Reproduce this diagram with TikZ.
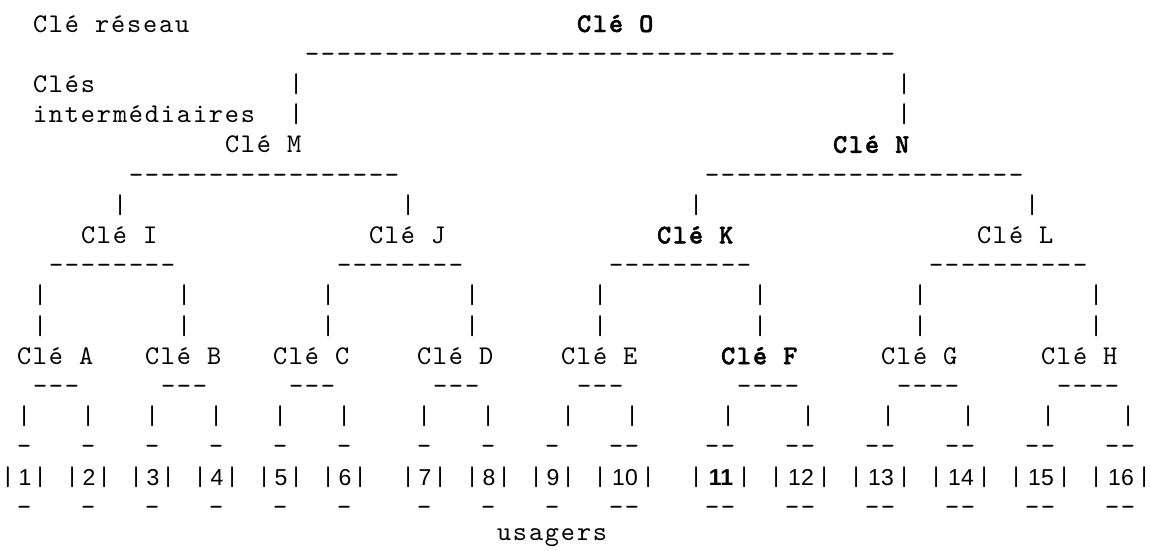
\documentclass[tikz,border=0pt]{standalone}
\usepackage{fontspec}
\newfontfamily\monoF{lmmono10-regular}[Extension=.otf, BoldFont=lmmonolt10-bold, BoldFeatures={FakeBold=1.5}, LetterSpace=6.76, Ligatures=TeXOff]
\newfontfamily\digF{Liberation Sans}[Ligatures=TeXOff]
\tikzset{
  mono/.style={anchor=base west, inner sep=0pt, outer sep=0pt, text=black,
    font=\monoF\fontsize{27}{30}\selectfont},
  monob/.style={mono, font=\monoF\bfseries\fontsize{27}{30}\selectfont},
  dig/.style={anchor=base, inner sep=0pt, outer sep=0pt, text=black,
    font=\digF\fontsize{23}{26}\selectfont},
}
\begin{document}
\begin{tikzpicture}[x=16pt, y=-1pt]
\path[fill=white] (0pt,0pt) rectangle (1151pt,-550pt);
\useasboundingbox (0pt,0pt) rectangle (1151pt,-550pt);
\begin{scope}[xshift=1pt]
% row 0
\node[mono]  (reseau) at (2,32) {Clé réseau};
\node[monob] (cleO)   at (36,32) {Clé O};
% row 1
\node[mono] (dO) at (19,62.2) {-------------------------------------};
% rows 2-3
\node[mono] (cles)  at (2,92.4)  {Clés};
\node[mono] (vOl1)  at (18,92.4) {|};
\node[mono] (vOr1)  at (56,92.4) {|};
\node[mono] (inter) at (2,122.6) {intermédiaires};
\node[mono] (vOl2)  at (18,122.6) {|};
\node[mono] (vOr2)  at (56,122.6) {|};
% row 4
\node[mono]  (cleM) at (14,152.8) {Clé M};
\node[monob] (cleN) at (52,152.8) {Clé N};
% row 5
\node[mono] (dM) at (8,183)  {-----------------};
\node[mono] (dN) at (44,183) {--------------------};
% row 6
\node[mono] (vMl) at (7,213.2)  {|};
\node[mono] (vMr) at (25,213.2) {|};
\node[mono] (vNl) at (43,213.2) {|};
\node[mono] (vNr) at (64,213.2) {|};
% row 7
\node[mono]  (cleI) at (5,243.4)  {Clé I};
\node[mono]  (cleJ) at (23,243.4) {Clé J};
\node[monob] (cleK) at (41,243.4) {Clé K};
\node[mono]  (cleL) at (61,243.4) {Clé L};
% row 8
\node[mono] (dI) at (3,273.6)  {--------};
\node[mono] (dJ) at (21,273.6) {--------};
\node[mono] (dK) at (38,273.6) {---------};
\node[mono] (dL) at (58,273.6) {----------};
% rows 9-10
\foreach \c [count=\i] in {2,11,20,29,37,47,57,68}{
  \node[mono] (va\i) at (\c,303.8) {|};
  \node[mono] (vb\i) at (\c,334) {|};
}
% row 11
\node[mono]  (cleA) at (1,364.2)  {Clé A};
\node[mono]  (cleB) at (9,364.2)  {Clé B};
\node[mono]  (cleC) at (17,364.2) {Clé C};
\node[mono]  (cleD) at (26,364.2) {Clé D};
\node[mono]  (cleE) at (35,364.2) {Clé E};
\node[monob] (cleF) at (45,364.2) {Clé F};
\node[mono]  (cleG) at (55,364.2) {Clé G};
\node[mono]  (cleH) at (65,364.2) {Clé H};
% row 12
\foreach \c/\t [count=\i] in {2/---,10/---,18/---,27/---,36/---,46/----,56/----,66/----}{
  \node[mono] (dl\i) at (\c,394.4) {\t};
}
% row 13
\foreach \c [count=\i] in {1,5,9,13,17,21,26,30,35,39,45,50,55,60,65,70}{
  \node[mono] (vu\i) at (\c,424.6) {|};
}
% rows 14 and 16
\foreach \c/\t [count=\i] in {1/-,5/-,9/-,13/-,17/-,21/-,26/-,30/-,34/-,38/--,44/--,49/--,54/--,59/--,64/--,69/--}{
  \node[mono] (ua\i) at (\c,454.8) {\t};
  \node[mono] (ub\i) at (\c,515.2) {\t};
}
% row 15
\foreach \c/\n/\w [count=\i] in {0/1/1,4/2/1,8/3/1,12/4/1,16/5/1,20/6/1,25/7/1,29/8/1,33/9/1,37/10/2,43/{\bfseries 11}/2,48/12/2,53/13/2,58/14/2,63/15/2,68/16/2}{
  \node[mono] (lb\i) at (\c,485) {|};
  \node[mono] (rb\i) at ({\c+\w+1},485) {|};
  \node[dig]  (num\i) at ({\c+1+\w/2},485) {\n};
}
% row 17
\node[mono] (usagers) at (31,540) {usagers};
\end{scope}
\end{tikzpicture}
\end{document}
